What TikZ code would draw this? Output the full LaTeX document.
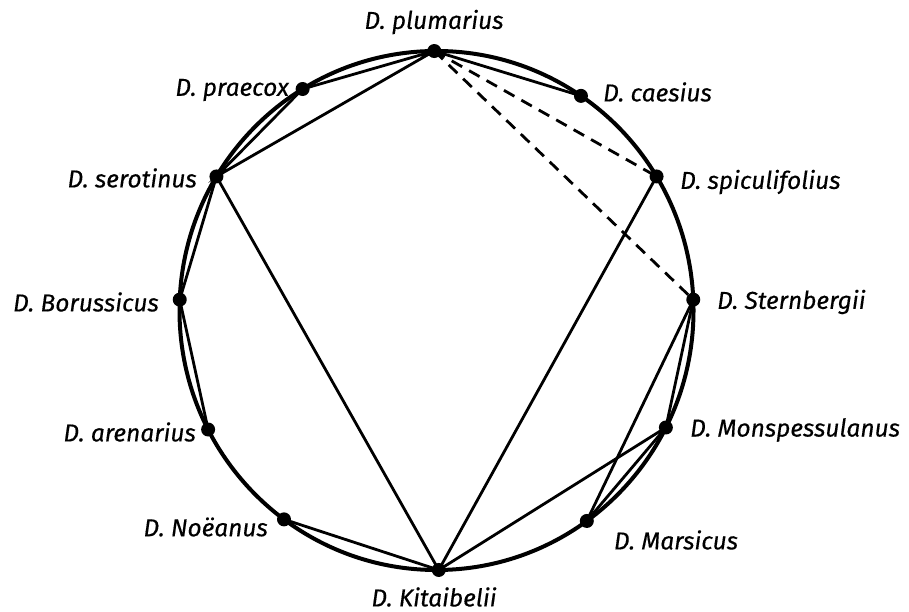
\documentclass[tikz,border=0pt]{standalone}
\usepackage{fontspec}
\setmainfont{Fira Sans}[FakeBold=0.4]
\begin{document}
\begin{tikzpicture}[x=1pt,y=1pt,
  dot/.style={circle,fill=black,inner sep=0pt,minimum size=14pt},
  lab/.style={font=\fontsize{24.5}{26}\selectfont\itshape,inner sep=0pt},
  rim/.style={line width=4pt},
  chord/.style={line width=2.8pt},
  dchord/.style={line width=2.8pt,dash pattern=on 12pt off 8pt}]
\useasboundingbox (0,0) rectangle (909,612);
\coordinate (c) at (436.5,301.5);
\draw[rim] (c) ellipse [x radius=257, y radius=259.5];
\path (c) ++(90.5:257 and 259.5) coordinate (plum);
\path (c) ++(121.4:257 and 259.5) coordinate (prae);
\path (c) ++(55.8:257 and 259.5) coordinate (caes);
\path (c) ++(148.9:257 and 259.5) coordinate (sero);
\path (c) ++(31.1:257 and 259.5) coordinate (spic);
\path (c) ++(177.6:257 and 259.5) coordinate (boru);
\path (c) ++(2.4:257 and 259.5) coordinate (ster);
\path (c) ++(207.3:257 and 259.5) coordinate (aren);
\path (c) ++(-26.8:257 and 259.5) coordinate (mons);
\path (c) ++(233.6:257 and 259.5) coordinate (noea);
\path (c) ++(-54.2:257 and 259.5) coordinate (mars);
\path (c) ++(270.5:257 and 259.5) coordinate (kita);
% chords
\draw[chord] (plum) -- (prae) -- (sero) -- (plum);
\draw[chord] (plum) -- (caes);
\draw[dchord] (plum) -- (spic);
\draw[dchord] (plum) -- (ster);
\draw[chord] (spic) -- (kita);
\draw[chord] (sero) -- (kita);
\draw[chord] (sero) -- (boru) -- (aren);
\draw[chord] (noea) -- (kita);
\draw[chord] (kita) -- (mons);
\draw[chord] (ster) -- (mars);
\draw[chord] (ster) -- (mons) -- (mars);
% dots
\foreach \n in {plum,prae,caes,sero,spic,boru,ster,aren,mons,noea,mars,kita}
  \node[dot] (d\n) at (\n) {};
% labels
\node[lab] (lplum) at (434,590) {D. plumarius};
\node[lab,anchor=east] (lprae) at (289,522) {D. praecox};
\node[lab,anchor=west] (lcaes) at (603,520) {D. caesius};
\node[lab,anchor=east] (lsero) at (197,434) {D. serotinus};
\node[lab,anchor=west] (lspic) at (680,430) {D. spiculifolius};
\node[lab,anchor=east] (lboru) at (159,310) {D. Borussicus};
\node[lab,anchor=west] (lster) at (717,310) {D. Sternbergii};
\node[lab,anchor=east] (laren) at (196,180) {D. arenarius};
\node[lab,anchor=west] (lmons) at (690,182) {D. Monspessulanus};
\node[lab,anchor=east] (lnoea) at (268,85) {D. Noëanus};
\node[lab] (lmars) at (676,72) {D. Marsicus};
\node[lab] (lkita) at (434,15) {D. Kitaibelii};
\end{tikzpicture}
\end{document}
